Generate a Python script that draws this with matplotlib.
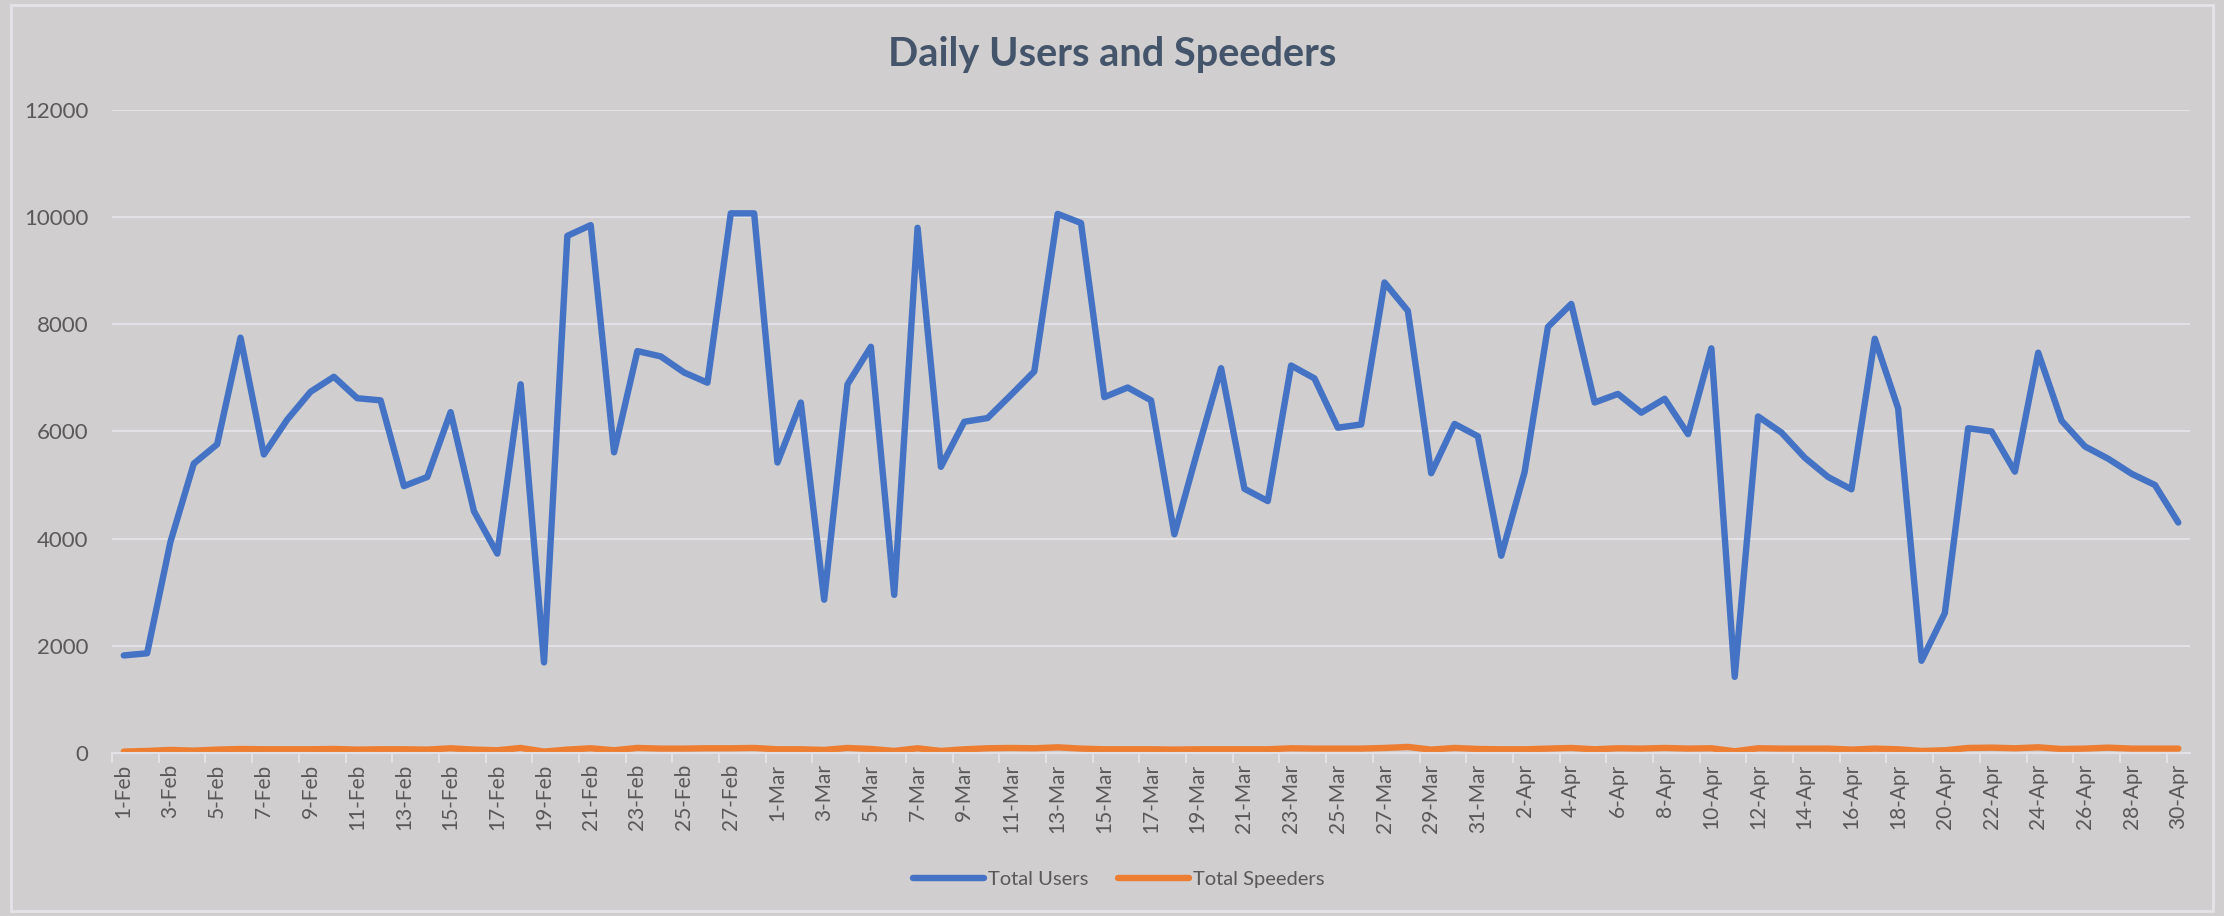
import numpy as np
import matplotlib.pyplot as plt
import pandas as pd

plt.rcParams['font.family'] = ['Lato', 'DejaVu Sans']

# 1-Feb .. 30-Apr (Feb has 28 days)
dates = pd.date_range('2021-02-01', '2021-04-30', freq='D')
day_labels = [f"{d.day}-{d.strftime('%b')}" for d in dates]

total_users = [
    1820, 1860, 3940, 5400, 5760, 7750, 5570, 6220, 6740, 7020,
    6620, 6580, 4980, 5150, 6360, 4510, 3720, 6880, 1690, 9650,
    9850, 5610, 7500, 7400, 7100, 6910, 10070, 10070,
    5420, 6540, 2860, 6880, 7580, 2950, 9800, 5340, 6180, 6250,
    6680, 7120, 10060, 9890, 6640, 6820, 6580, 4080, 5650, 7180,
    4930, 4700, 7230, 6990, 6070, 6130, 8780, 8250, 5220, 6140,
    5910,
    3680, 5240, 7950, 8380, 6540, 6700, 6350, 6610, 5950, 7550,
    1420, 6280, 5980, 5510, 5150, 4920, 7730, 6430, 1720, 2610,
    6060, 6000, 5250, 7470, 6200, 5720, 5490, 5210, 5000, 4300,
]

total_speeders = [
    25, 37, 56, 43, 62, 74, 68, 68, 68, 74,
    62, 68, 68, 62, 87, 62, 50, 93, 25, 62,
    87, 50, 93, 81, 81, 87, 87, 93,
    68, 68, 56, 93, 74, 37, 87, 37, 68, 87,
    93, 87, 105, 81, 68, 68, 68, 62, 68, 68,
    68, 68, 87, 81, 81, 81, 93, 112, 62, 93,
    74,
    68, 68, 81, 93, 68, 87, 81, 93, 81, 87,
    31, 87, 81, 81, 81, 62, 81, 68, 37, 50,
    93, 99, 87, 105, 74, 81, 99, 81, 81, 81,
]

bg = '#D0CECE'
grid_c = '#E2E2E6'
text_c = '#595959'

fig = plt.figure(figsize=(22.24, 9.16), dpi=100, facecolor=bg)
ax = fig.add_axes([0.0504, 0.178, 0.9343, 0.702])
ax.set_facecolor(bg)

x = np.arange(len(day_labels))
ax.plot(x, total_users, color='#4472C4', lw=4.6, label='Total Users',
        solid_joinstyle='round', solid_capstyle='round')
ax.plot(x, total_speeders, color='#ED7D31', lw=4.6, label='Total Speeders',
        solid_joinstyle='round', solid_capstyle='round')

ax.set_xlim(-0.5, len(x) - 0.5)
ax.set_ylim(0, 12000)
ax.set_yticks(np.arange(0, 12001, 2000))
ax.yaxis.grid(True, color=grid_c, lw=1.5)
ax.set_axisbelow(True)

# labels on every other day, ticks at category boundaries
ax.set_xticks(x[::2])
ax.set_xticklabels(day_labels[::2], rotation=90, fontsize=15, color=text_c)
ax.set_xticks(np.arange(-0.5, len(x), 2), minor=True)
ax.tick_params(axis='x', which='major', length=0, pad=8)
ax.tick_params(axis='x', which='minor', length=7, width=1.5, color=grid_c)
ax.tick_params(axis='y', length=0, labelsize=16, labelcolor=text_c, pad=17)

for s in ['top', 'right', 'left']:
    ax.spines[s].set_visible(False)
ax.spines['bottom'].set_color(grid_c)
ax.spines['bottom'].set_linewidth(1.5)

fig.text(0.5, 0.94, 'Daily Users and Speeders', ha='center', va='center',
         fontsize=28.6, fontweight='bold', color='#44546A')

leg = fig.legend(loc='center', bbox_to_anchor=(0.503, 0.04), ncol=2,
                 frameon=False, fontsize=14.5, handlelength=3.5,
                 columnspacing=1.5, handletextpad=0.2)
for t in leg.get_texts():
    t.set_color(text_c)

# light chart border
fig.patches.append(plt.Rectangle((0.005, 0.005), 0.99, 0.99, transform=fig.transFigure,
                                 fill=False, ec='#E4E4E8', lw=2))

fig.savefig('out.png', dpi=100, facecolor=bg)
